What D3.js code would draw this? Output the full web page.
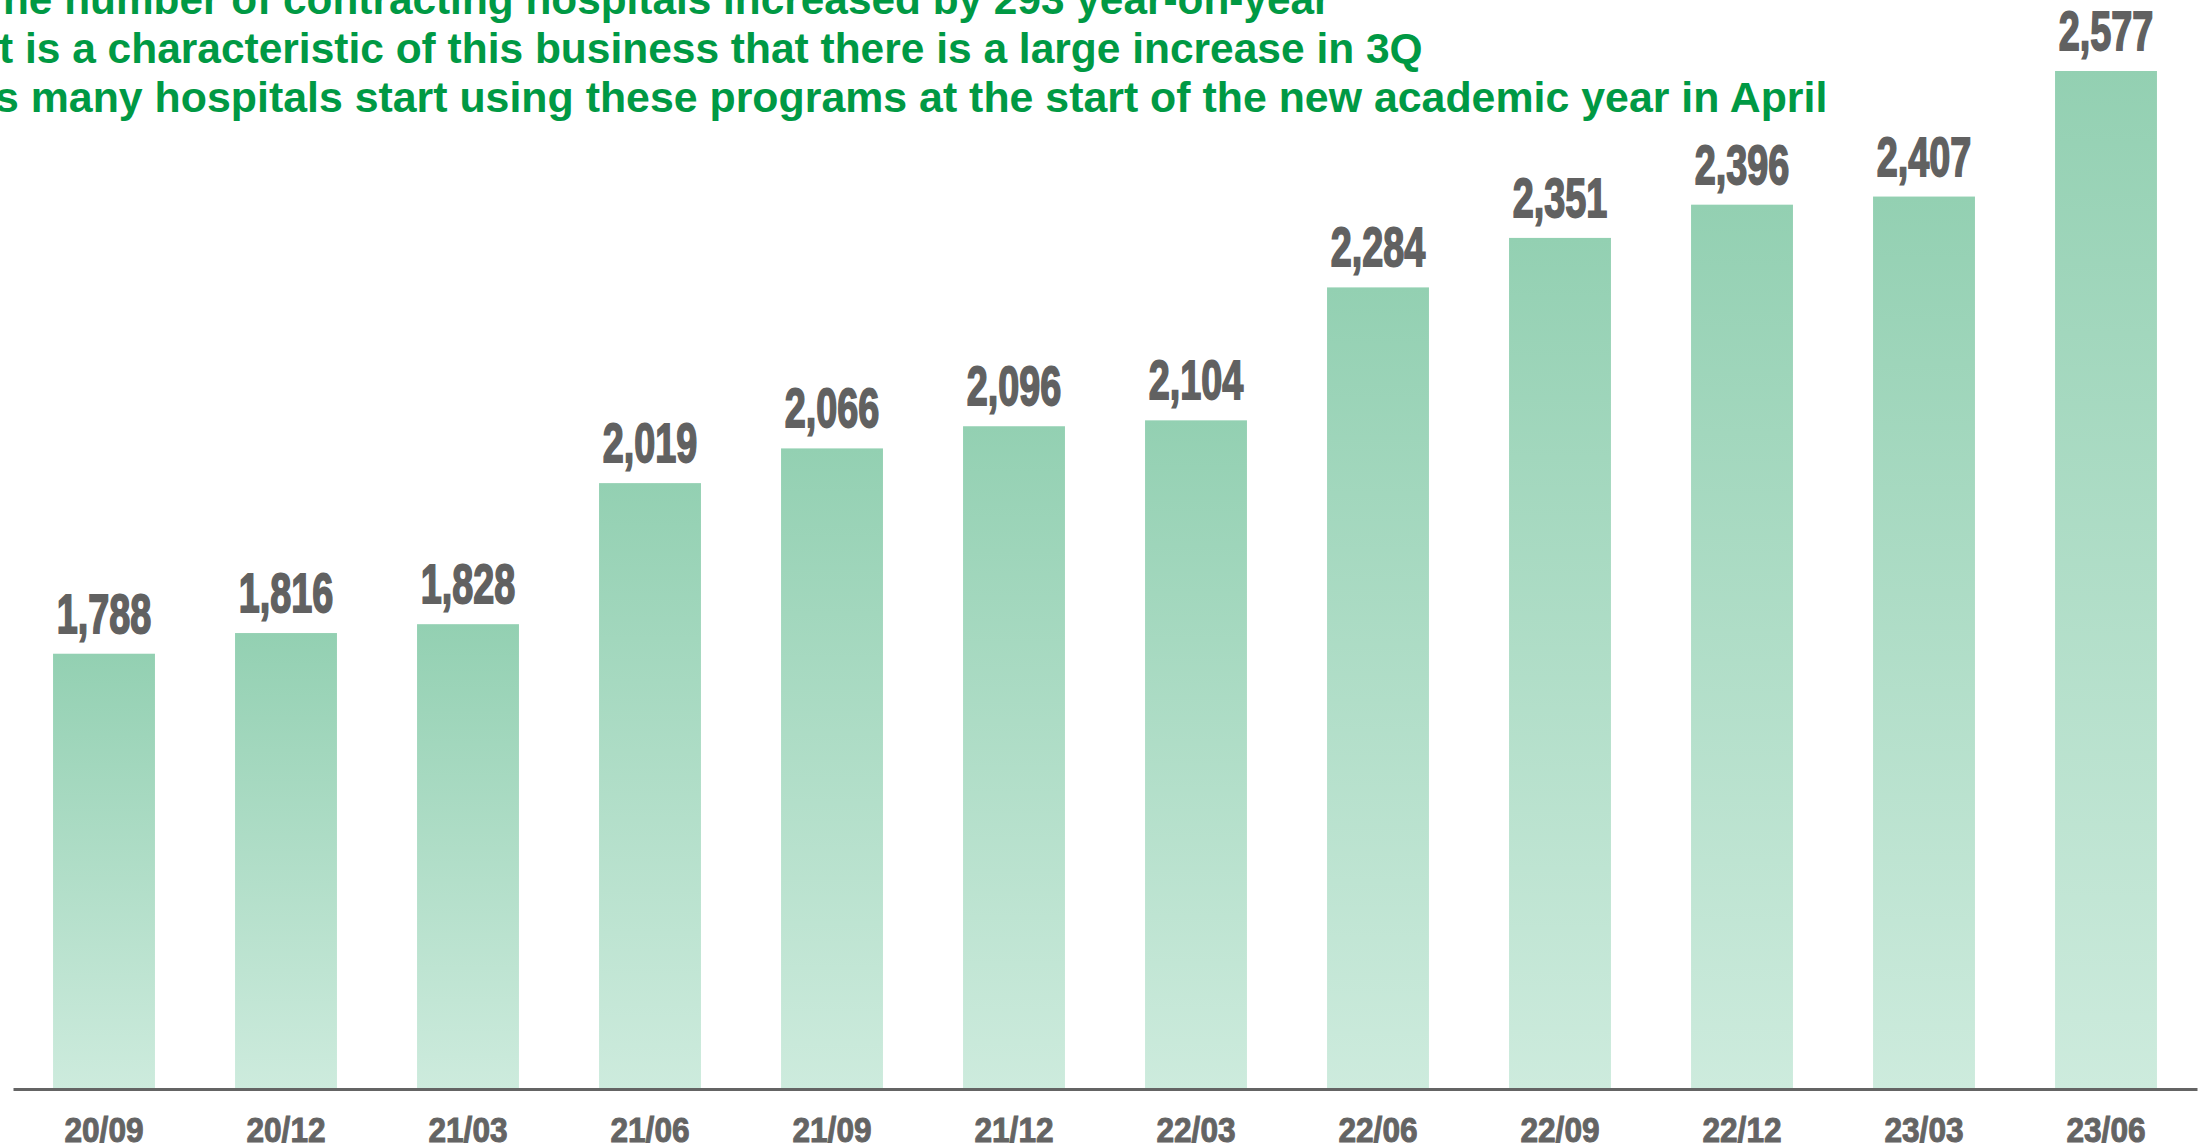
<!DOCTYPE html>
<html>
<head>
<meta charset="utf-8">
<script src="https://cdn.jsdelivr.net/npm/d3@7"></script>
<style>
  html, body { margin: 0; padding: 0; background: #ffffff; }
  svg { display: block; overflow: hidden; }
</style>
</head>
<body>
<script>
// Quarter-end labels and number of contracting hospitals
const categories = ["20/09", "20/12", "21/03", "21/06", "21/09", "21/12",
                    "22/03", "22/06", "22/09", "22/12", "23/03", "23/06"];
const hospitals = [1788, 1816, 1828, 2019, 2066, 2096, 2104, 2284, 2351, 2396, 2407, 2577];
const notes = [
  "The number of contracting hospitals increased by 293 year-on-year",
  "It is a characteristic of this business that there is a large increase in 3Q",
  "as many hospitals start using these programs at the start of the new academic year in April"
];

const W = 2201, H = 1146;
const svg = d3.select("body").append("svg").attr("width", W).attr("height", H);

const x = d3.scaleBand().domain(categories).range([13, 2197])
  .paddingInner(0.44).paddingOuter(0.22);
const y = d3.scaleLinear().domain([1200, 2577]).range([1088, 71]);

// vertical fade used by every bar
const grad = svg.append("defs").append("linearGradient")
  .attr("id", "barFade").attr("x1", 0).attr("y1", 0).attr("x2", 0).attr("y2", 1);
grad.append("stop").attr("offset", 0).attr("stop-color", "#93d0b2");
grad.append("stop").attr("offset", 1).attr("stop-color", "#cdebdd");

svg.append("g").selectAll("rect").data(hospitals).join("rect")
  .attr("x", (d, i) => x(categories[i]))
  .attr("y", d => y(d))
  .attr("width", x.bandwidth())
  .attr("height", d => y.range()[0] - y(d))
  .attr("fill", "url(#barFade)");

// baseline axis with category labels
const axis = svg.append("g").attr("transform", "translate(0,1089)")
  .call(d3.axisBottom(x).tickSize(0));
axis.select(".domain").attr("stroke", "#646464").attr("stroke-width", 3);
const tickText = axis.selectAll(".tick text")
  .attr("y", 0).attr("dy", 0)
  .attr("font-family", "'Liberation Sans Narrow', 'Liberation Sans', Arial, sans-serif")
  .attr("font-weight", "bold").attr("font-size", 35)
  .attr("fill", "#646464").attr("stroke", "#646464").attr("stroke-width", 1);
// condense tick labels to the target width
{
  const w0 = tickText.node().getComputedTextLength();
  const sx = (2.26 * 35) / w0;
  tickText.attr("transform", `translate(0,53) scale(${sx},1)`);
}

// value labels above the bars
const fmt = d3.format(",");
const vals = svg.append("g").selectAll("text").data(hospitals).join("text")
  .text(d => fmt(d))
  .attr("text-anchor", "middle")
  .attr("font-family", "'Liberation Sans Narrow', 'Liberation Sans', Arial, sans-serif")
  .attr("font-weight", "bold").attr("font-size", 55)
  .attr("fill", "#616161").attr("stroke", "#616161").attr("stroke-width", 1.8);
{
  const w0 = vals.node().getComputedTextLength();
  const sx = (1.72 * 55) / w0;
  vals.attr("transform", (d, i) =>
    `translate(${x(categories[i]) + x.bandwidth() / 2},${y(d) - 21}) scale(${sx},1)`);
}

// commentary lines at the top, running off the left edge
const noteLayout = [
  { left: 3, right: 1331, base: 14 },
  { left: -1, right: 1423, base: 63 },
  { left: -5, right: 1828, base: 112 }
];
svg.append("g").selectAll("text").data(notes).join("text")
  .text(d => d)
  .attr("font-family", "'Liberation Sans', Arial, sans-serif")
  .attr("font-weight", "bold").attr("font-size", 43)
  .attr("fill", "#009944")
  .each(function (d, i) {
    const full = this.getComputedTextLength();
    const first = this.getSubStringLength(0, 1);
    const L = noteLayout[i];
    const sx = (L.right - L.left) / (full - first);
    d3.select(this).attr("transform",
      `translate(${L.left - first * sx},${L.base}) scale(${sx},1)`);
  });
</script>
</body>
</html>
